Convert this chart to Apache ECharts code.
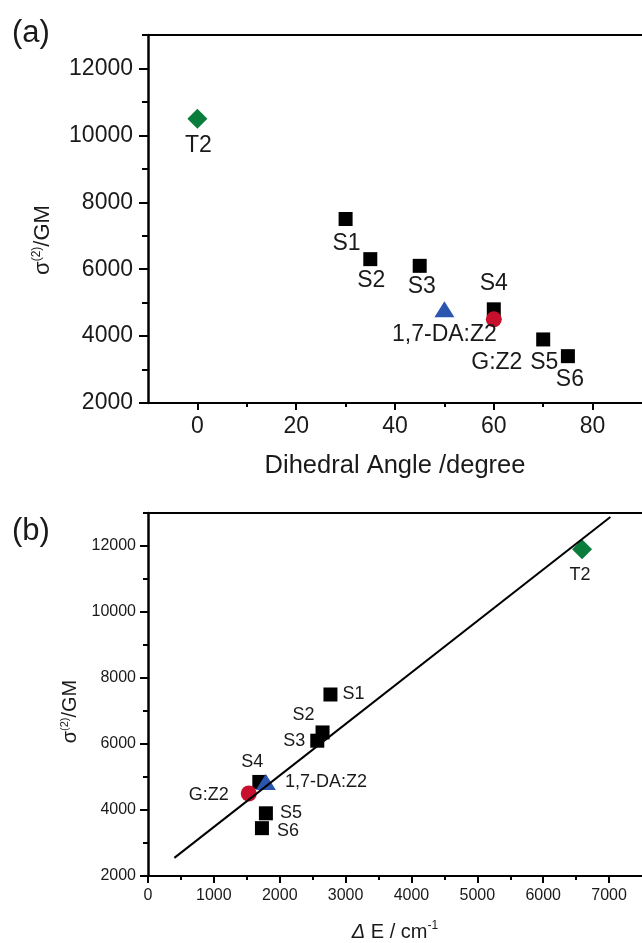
<!DOCTYPE html>
<html>
<head>
<meta charset="utf-8">
<script src="https://cdn.jsdelivr.net/npm/echarts@6/dist/echarts.min.js"></script>
<style>
html, body { margin: 0; padding: 0; background: #fff; }
#chart { width: 642px; height: 943px; }
</style>
</head>
<body>
<div id="chart"></div>
<script>
// compounds, same order in both panels
const compounds = ['T2', 'S1', 'S2', 'S3', 'S4', '1,7-DA:Z2', 'G:Z2', 'S5', 'S6'];
// panel (a): two-photon cross section vs dihedral angle
const dihedralAngle = [0, 30, 35, 45, 60, 50, 60, 70, 75];
const sigmaA = [10500, 7500, 6300, 6100, 4800, 4800, 4500, 3900, 3400];
// panel (b): cross section vs energy gap
const deltaE = [6590, 2770, 2650, 2570, 1690, 1790, 1530, 1790, 1730];
const sigmaB = [11900, 7500, 6350, 6100, 4850, 4850, 4500, 3900, 3450];
// linear fit in (b)
const fitDeltaE = [400, 7020];
const fitSigma = [2550, 12880];
// ticks
const angleTicks = [0, 20, 40, 60, 80];
const angleMinorTicks = [10, 30, 50, 70];
const energyTicks = [0, 1000, 2000, 3000, 4000, 5000, 6000, 7000];
const energyMinorTicks = [500, 1500, 2500, 3500, 4500, 5500, 6500];
const sigmaTicks = [2000, 4000, 6000, 8000, 10000, 12000];
const sigmaMinorTicks = [3000, 5000, 7000, 9000, 11000, 13000];

const FONT = 'Liberation Sans, Arial, sans-serif';
const INK = '#1a1a1a';

const markers = {
    'T2': { symbol: 'diamond', size: [20, 20], color: '#0a7d3d' },
    '1,7-DA:Z2': { symbol: 'triangle', size: [20, 16], color: '#2a56b0' },
    'G:Z2': { symbol: 'circle', size: 16, color: '#c8102e' }
};
const square = { symbol: 'rect', size: 14, color: '#000' };

// label placement (offset from marker centre)
const labelsA = {
    'T2': [1, 27], 'S1': [1, 25], 'S2': [1, 22], 'S3': [2, 21], 'S4': [0, -26],
    '1,7-DA:Z2': [0, 25], 'G:Z2': [3, 43], 'S5': [1, 23], 'S6': [2, 23]
};
const labelsB = {
    'T2': [-2, 26, 'center'], 'S1': [12, 0, 'left'], 'S2': [-19, -17, 'center'],
    'S3': [-12, 0, 'right'], 'S4': [-7, -20, 'center'], '1,7-DA:Z2': [19, 0, 'left'],
    'G:Z2': [-20, 2, 'right'], 'S5': [14, 0, 'left'], 'S6': [15, 3, 'left']
};

function plain(v) { return String(v); }

function points(xs, ys, labels, fontSize) {
    return compounds.map(function (name, i) {
        const m = markers[name] || square;
        const l = labels[name];
        return {
            name: name,
            value: [xs[i], ys[i]],
            symbol: m.symbol,
            symbolSize: m.size,
            itemStyle: { color: m.color, opacity: 1 },
            label: {
                show: true,
                position: 'inside',
                offset: [l[0], l[1]],
                align: l[2] || 'center',
                formatter: '{b}',
                color: INK,
                fontSize: fontSize,
                fontFamily: FONT,
                textBorderWidth: 0
            }
        };
    });
}

function mainX(grid, min, max, ticks, fontSize, name, nameGap, rich, nameSize) {
    return {
        type: 'value', gridIndex: grid, position: 'bottom', min: min, max: max,
        name: name, nameLocation: 'middle', nameGap: nameGap,
        nameTextStyle: { fontSize: nameSize, color: INK, fontFamily: FONT, rich: rich },
        axisLine: { show: true, onZero: false, lineStyle: { color: '#000', width: 2 } },
        axisTick: { show: true, inside: false, length: 7, customValues: ticks, lineStyle: { color: '#000', width: 2 } },
        axisLabel: { show: true, customValues: ticks, formatter: plain, margin: 12, fontSize: fontSize, color: INK, fontFamily: FONT },
        splitLine: { show: false }
    };
}
function minorX(grid, min, max, ticks) {
    return {
        type: 'value', gridIndex: grid, position: 'bottom', min: min, max: max,
        axisLine: { show: false, onZero: false },
        axisTick: { show: true, inside: false, length: 4, customValues: ticks, lineStyle: { color: '#000', width: 2 } },
        axisLabel: { show: false }, splitLine: { show: false }
    };
}
function topX(grid, min, max) {
    return {
        type: 'value', gridIndex: grid, position: 'top', min: min, max: max,
        axisLine: { show: true, onZero: false, lineStyle: { color: '#000', width: 2 } },
        axisTick: { show: false }, axisLabel: { show: false }, splitLine: { show: false }
    };
}
function mainY(grid, fontSize, nameGap, nameSize, shift, margin, tickLen) {
    return {
        type: 'value', gridIndex: grid, position: 'left', min: 2000, max: 13000,
        name: '{s|σ}{sup|(2)}{s|/GM}', nameLocation: 'middle', nameGap: nameGap,
        nameTextStyle: {
            color: INK, fontFamily: FONT, padding: [0, shift, 0, 0],
            rich: {
                s: { fontSize: nameSize, fontFamily: FONT, color: INK },
                sup: { fontSize: Math.round(nameSize * 0.55), fontFamily: FONT, color: INK, padding: [0, 0, nameSize * 0.6, 0] }
            }
        },
        axisLine: { show: true, onZero: false, lineStyle: { color: '#000', width: 2.5 } },
        axisTick: { show: true, inside: false, length: tickLen, customValues: sigmaTicks, lineStyle: { color: '#000', width: 2 } },
        axisLabel: { show: true, customValues: sigmaTicks, formatter: plain, margin: margin, fontSize: fontSize, color: INK, fontFamily: FONT },
        splitLine: { show: false }
    };
}
function minorY(grid, tickLen) {
    return {
        type: 'value', gridIndex: grid, position: 'left', min: 2000, max: 13000,
        axisLine: { show: false, onZero: false },
        axisTick: { show: true, inside: false, length: tickLen, customValues: sigmaMinorTicks, lineStyle: { color: '#000', width: 2 } },
        axisLabel: { show: false }, splitLine: { show: false }
    };
}

const energyRich = {
    i: { fontSize: 20, fontStyle: 'italic', fontFamily: FONT, color: INK },
    n: { fontSize: 20, fontFamily: FONT, color: INK },
    sup: { fontSize: 12, fontFamily: FONT, color: INK, padding: [0, 0, 12, 0] }
};

const chart = echarts.init(document.getElementById('chart'), null, { renderer: 'canvas' });
chart.setOption({
    animation: false,
    backgroundColor: '#fff',
    title: [
        { text: '(a)', left: 7, top: 13, textStyle: { fontSize: 31, fontWeight: 'normal', color: INK, fontFamily: FONT } },
        { text: '(b)', left: 7, top: 511, textStyle: { fontSize: 31, fontWeight: 'normal', color: INK, fontFamily: FONT } }
    ],
    grid: [
        { left: 148, top: 35, right: -6, height: 368, containLabel: false },
        { left: 148, top: 513, right: -10, height: 368, containLabel: false }
    ],
    xAxis: [
        mainX(0, -10, 90, angleTicks, 23, 'Dihedral Angle /degree', 50, null, 25.5),
        minorX(0, -10, 90, angleMinorTicks),
        topX(0, -10, 90),
        mainX(1, 0, 7500, energyTicks, 16, '{i|Δ} {n|E / cm}{sup|-1}', 44, energyRich, 20),
        minorX(1, 0, 7500, energyMinorTicks),
        topX(1, 0, 7500)
    ],
    yAxis: [
        mainY(0, 23, 92, 22, 42, 15, 9),
        minorY(0, 6),
        mainY(1, 16, 59, 20, 34, 12, 8),
        minorY(1, 5)
    ],
    series: [
        {
            type: 'scatter', xAxisIndex: 0, yAxisIndex: 0, clip: false,
            data: points(dihedralAngle, sigmaA, labelsA, 23)
        },
        {
            type: 'scatter', xAxisIndex: 3, yAxisIndex: 2, clip: false,
            data: points(deltaE, sigmaB, labelsB, 18)
        },
        {
            type: 'line', xAxisIndex: 3, yAxisIndex: 2, z: 3, symbol: 'none',
            lineStyle: { color: '#000', width: 2 },
            data: fitDeltaE.map(function (x, i) { return [x, fitSigma[i]]; })
        }
    ]
});
</script>
</body>
</html>
